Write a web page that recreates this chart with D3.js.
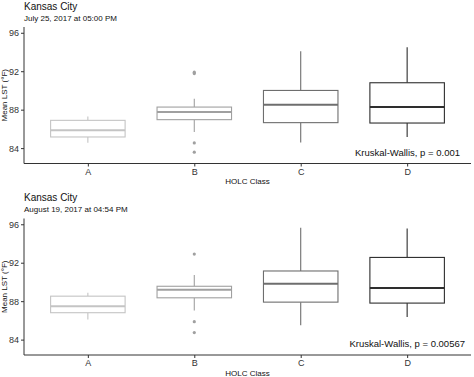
<!DOCTYPE html>
<html><head><meta charset="utf-8">
<script src="https://cdn.jsdelivr.net/npm/d3@7"></script>
<style>body{margin:0;background:#fff;} text{font-family:"Liberation Sans",Arial,sans-serif;}</style>
</head><body>
<svg id="c" width="474" height="377"></svg>
<script>
const categories = ["A","B","C","D"];
const yTicks = [84, 88, 92, 96];
const boxColors = ["#c4c4c4","#a0a0a0","#6e6e6e","#2e2e2e"];
// panel 1: July 25
const title1 = "Kansas City", subtitle1 = "July 25, 2017 at 05:00 PM", stat1 = "Kruskal-Wallis, p = 0.001";
const lower1 = [84.55, 85.68, 84.58, 85.16];
const q1_1   = [85.16, 86.96, 86.65, 86.61];
const med1   = [85.86, 87.75, 88.52, 88.27];
const q3_1   = [86.89, 88.27, 90.00, 90.80];
const upper1 = [87.30, 89.14, 94.07, 94.49];
const outCat1 = ["B","B","B","B"];
const outVal1 = [91.75, 91.9, 84.54, 83.58];
// panel 2: August 19
const title2 = "Kansas City", subtitle2 = "August 19, 2017 at 04:54 PM", stat2 = "Kruskal-Wallis, p = 0.00567";
const lower2 = [86.10, 87.04, 85.49, 86.35];
const q1_2   = [86.80, 88.35, 87.90, 87.80];
const med2   = [87.48, 89.18, 89.80, 89.38];
const q3_2   = [88.52, 89.55, 91.14, 92.55];
const upper2 = [88.87, 90.73, 95.65, 95.55];
const outCat2 = ["B","B","B"];
const outVal2 = [92.9, 85.87, 84.73];

const svg = d3.select("#c");

function panel(top, t, st, stat, statEnd, lower, q1, med, q3, upper, oc, ov) {
  const L = 24, R = 471, T = top + 27, B = top + 163.5;
  const g = svg.append("g");
  const step = (R - L) / 4.2;
  const cx = c => L + step * (0.6 + categories.indexOf(c));
  const y = d3.scaleLinear().domain([82.4, 96.6]).range([B, T]);
  const bw = step * 0.7;

  g.append("text").attr("x", L).attr("y", top + 9.5).attr("font-size", 10).attr("fill", "#111").text(t);
  g.append("text").attr("x", L).attr("y", top + 20.5).attr("font-size", 8).attr("fill", "#111").text(st);

  categories.forEach((c, i) => {
    const col = boxColors[i], X = cx(c);
    g.append("line").attr("x1", X).attr("x2", X).attr("y1", y(upper[i])).attr("y2", y(q3[i])).attr("stroke", col).attr("stroke-width", 1.1);
    g.append("line").attr("x1", X).attr("x2", X).attr("y1", y(q1[i])).attr("y2", y(lower[i])).attr("stroke", col).attr("stroke-width", 1.1);
    g.append("rect").attr("x", X - bw / 2).attr("y", y(q3[i])).attr("width", bw).attr("height", y(q1[i]) - y(q3[i]))
      .attr("fill", "#fff").attr("stroke", col).attr("stroke-width", 1.1);
    g.append("line").attr("x1", X - bw / 2).attr("x2", X + bw / 2).attr("y1", y(med[i])).attr("y2", y(med[i])).attr("stroke", col).attr("stroke-width", 2);
  });
  oc.forEach((c, j) => {
    const i = categories.indexOf(c);
    g.append("circle").attr("cx", cx(c)).attr("cy", y(ov[j])).attr("r", 1.6).attr("fill", boxColors[i]);
  });

  const ya = g.append("g").attr("transform", `translate(${L},0)`)
    .call(d3.axisLeft(y).tickValues(yTicks).tickSize(3).tickPadding(2));
  ya.select(".domain").attr("d", `M0,${T}V${B}`).attr("stroke", "#333").attr("stroke-width", 1);
  ya.selectAll(".tick line").attr("stroke", "#333");
  ya.selectAll(".tick text").attr("font-size", 9).attr("fill", "#333").attr("font-family", "Liberation Sans, Arial, sans-serif");

  const xs = d3.scaleOrdinal().domain(categories).range(categories.map(cx));
  const xa = g.append("g").attr("transform", `translate(0,${B})`)
    .call(d3.axisBottom(xs).tickSize(3).tickPadding(2));
  xa.select(".domain").attr("d", `M${L},0H${R}`).attr("stroke", "#333").attr("stroke-width", 1);
  xa.selectAll(".tick line").attr("stroke", "#333");
  xa.selectAll(".tick text").attr("font-size", 9).attr("fill", "#333").attr("font-family", "Liberation Sans, Arial, sans-serif");

  g.append("text").attr("x", (L + R) / 2).attr("y", B + 20.5).attr("text-anchor", "middle").attr("font-size", 8).attr("fill", "#111").text("HOLC Class");
  g.append("text").attr("transform", `translate(7,${(T + B) / 2}) rotate(-90)`).attr("text-anchor", "middle").attr("font-size", 8).attr("fill", "#111").text("Mean LST (°F)");
  g.append("text").attr("x", statEnd).attr("y", B - 8).attr("text-anchor", "end").attr("font-size", 9.5).attr("fill", "#111").text(stat);
}

panel(0, title1, subtitle1, stat1, 460, lower1, q1_1, med1, q3_1, upper1, outCat1, outVal1);
panel(191.5, title2, subtitle2, stat2, 465, lower2, q1_2, med2, q3_2, upper2, outCat2, outVal2);
</script>
</body></html>
